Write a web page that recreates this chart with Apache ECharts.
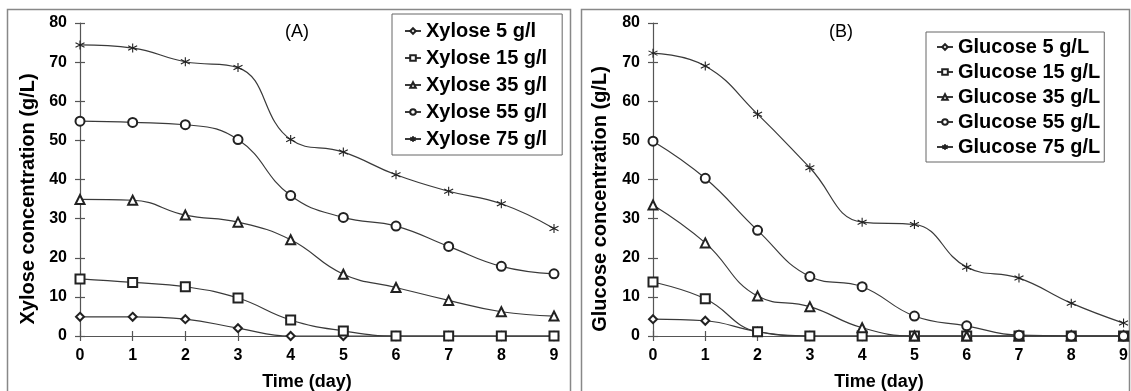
<!DOCTYPE html>
<html>
<head>
<meta charset="utf-8">
<script src="https://cdn.jsdelivr.net/npm/echarts@6/dist/echarts.min.js"></script>
<style>
html,body{margin:0;padding:0;background:#fff;}
#c{width:1131px;height:391px;}
</style>
</head>
<body>
<div id="c"></div>
<script>
var days = [0,1,2,3,4,5,6,7,8,9];
var yTicks = [0,10,20,30,40,50,60,70,80];

var xyloseNames = ['Xylose 5 g/l','Xylose 15 g/l','Xylose 35 g/l','Xylose 55 g/l','Xylose 75 g/l'];
var xylose5  = [4.9, 4.9, 4.3, 2.0, 0, 0, 0, 0, 0, 0];
var xylose15 = [14.6, 13.7, 12.6, 9.7, 4.1, 1.3, 0, 0, 0, 0];
var xylose35 = [34.9, 34.7, 30.9, 29.1, 24.6, 15.8, 12.4, 9.1, 6.2, 5.1];
var xylose55 = [54.9, 54.6, 54.0, 50.2, 35.9, 30.3, 28.1, 22.9, 17.8, 15.9];
var xylose75 = [74.4, 73.6, 70.1, 68.6, 50.2, 47.0, 41.2, 37.0, 33.8, 27.5];

var glucoseNames = ['Glucose 5 g/L','Glucose 15 g/L','Glucose 35 g/L','Glucose 55 g/L','Glucose 75 g/L'];
var glucose5  = [4.3, 3.9, 1.1, 0, 0, 0, 0, 0, 0, 0];
var glucose15 = [13.8, 9.5, 1.1, 0, 0, 0, 0, 0, 0, 0];
var glucose35 = [33.5, 23.8, 10.2, 7.5, 2.1, 0, 0, 0, 0, 0];
var glucose55 = [49.8, 40.3, 27.0, 15.2, 12.6, 5.1, 2.6, 0.2, 0, 0];
var glucose75 = [72.3, 69.0, 56.7, 43.0, 29.1, 28.5, 17.6, 14.8, 8.4, 3.3];

var asterisk = 'path://M0,-10L0,10M-8.66,-5L8.66,5M-8.66,5L8.66,-5';
var symbols = ['emptyDiamond','emptyRect','emptyTriangle','emptyCircle',asterisk];
var sizes = [8,9,9,9,9];

function pairs(vals){ return days.map(function(d,i){ return [d, vals[i]]; }); }

var FONT = 'Liberation Sans';
var LINE = '#3a3a3a';
function mkSeries(names, arrs, idx){
  return arrs.map(function(a,i){
    var isPath = i===4;
    return {
      type:'line', name:names[i], xAxisIndex:idx, yAxisIndex:idx,
      data:pairs(a), smooth:0.45, symbol:symbols[i], symbolSize:sizes[i],
      showAllSymbol:true,
      lineStyle:{color:LINE,width:1.2},
      itemStyle: isPath ? {color:'#222',borderColor:'#222',borderWidth:1.1} : {color:'#222',borderWidth:1},
      z: 3+i
    };
  });
}

var series = [].concat(
  mkSeries(xyloseNames,[xylose5,xylose15,xylose35,xylose55,xylose75],0),
  mkSeries(glucoseNames,[glucose5,glucose15,glucose35,glucose55,glucose75],1)
);

var tickLabel = {show:true, color:'#000', fontSize:16, fontWeight:'bold', fontFamily:FONT};

function xMain(grid){
  return {
    type:'value', gridIndex:grid, min:0, max:9, interval:1, position:'bottom',
    axisLine:{show:true, onZero:false, lineStyle:{color:'#555',width:1.2}},
    axisTick:{show:true, inside:false, length:5, lineStyle:{color:'#555',width:1.2}},
    axisLabel:Object.assign({margin:12}, tickLabel),
    splitLine:{show:false}
  };
}
function xInner(grid){
  return {
    type:'value', gridIndex:grid, min:0, max:9, interval:1, position:'bottom',
    axisLine:{show:false, onZero:false},
    axisTick:{show:true, inside:true, length:5, lineStyle:{color:'#555',width:1.2}},
    axisLabel:{show:false},
    splitLine:{show:false}
  };
}
function yMain(grid){
  return {
    type:'value', gridIndex:grid, min:yTicks[0], max:yTicks[yTicks.length-1], interval:10, position:'left',
    axisLine:{show:true, onZero:false, lineStyle:{color:'#555',width:1.2}},
    axisTick:{show:true, inside:false, length:5, lineStyle:{color:'#555',width:1.2}},
    axisLabel:Object.assign({margin:13}, tickLabel),
    splitLine:{show:false}
  };
}
function yInner(grid){
  return {
    type:'value', gridIndex:grid, min:yTicks[0], max:yTicks[yTicks.length-1], interval:10, position:'left',
    axisLine:{show:false, onZero:false},
    axisTick:{show:true, inside:true, length:5, lineStyle:{color:'#555',width:1.2}},
    axisLabel:{show:false},
    splitLine:{show:false}
  };
}

var legText = {color:'#000',fontSize:20,fontWeight:'bold',fontFamily:FONT};

var option = {
  animation:false,
  backgroundColor:'#fff',
  grid:[
    {left:80, top:23, width:474, height:313},
    {left:653, top:23, width:474, height:313}
  ],
  xAxis:[xMain(0), xMain(1), xInner(0), xInner(1)],
  yAxis:[yMain(0), yMain(1), yInner(0), yInner(1)],
  legend:[
    {data:xyloseNames, orient:'vertical', left:392, top:14,
     itemWidth:16, itemHeight:7, itemGap:7, selectedMode:false,
     borderColor:'#666', borderWidth:1, padding:[7,15,6,12],
     textStyle:legText, backgroundColor:'#fff'},
    {data:glucoseNames, orient:'vertical', left:926, top:32,
     itemWidth:16, itemHeight:7, itemGap:5, selectedMode:false,
     borderColor:'#666', borderWidth:1, padding:[5,4,5,10],
     textStyle:legText, backgroundColor:'#fff'}
  ],
  graphic:[
    {type:'rect', shape:{x:7.5,y:9.5,width:563,height:400}, style:{fill:null,stroke:'#888',lineWidth:1.5}, silent:true},
    {type:'rect', shape:{x:581.5,y:9.5,width:548,height:400}, style:{fill:null,stroke:'#888',lineWidth:1.5}, silent:true},
    {type:'text', x:297, y:32, style:{text:'(A)', fontSize:18, fontFamily:FONT, fill:'#000', align:'center', verticalAlign:'middle'}},
    {type:'text', x:841, y:32, style:{text:'(B)', fontSize:18, fontFamily:FONT, fill:'#000', align:'center', verticalAlign:'middle'}},
    {type:'text', x:307, y:382, style:{text:'Time (day)', fontSize:18, fontWeight:'bold', fontFamily:FONT, fill:'#000', align:'center', verticalAlign:'middle'}},
    {type:'text', x:879, y:382, style:{text:'Time (day)', fontSize:18, fontWeight:'bold', fontFamily:FONT, fill:'#000', align:'center', verticalAlign:'middle'}},
    {type:'text', x:28, y:199, rotation:Math.PI/2, style:{text:'Xylose concentration (g/L)', fontSize:20, fontWeight:'bold', fontFamily:FONT, fill:'#000', align:'center', verticalAlign:'middle'}},
    {type:'text', x:600, y:199, rotation:Math.PI/2, style:{text:'Glucose concentration (g/L)', fontSize:20, fontWeight:'bold', fontFamily:FONT, fill:'#000', align:'center', verticalAlign:'middle'}}
  ],
  series:series
};
var chart = echarts.init(document.getElementById('c'), null, {renderer:'canvas'});
chart.setOption(option);
</script>
</body>
</html>
